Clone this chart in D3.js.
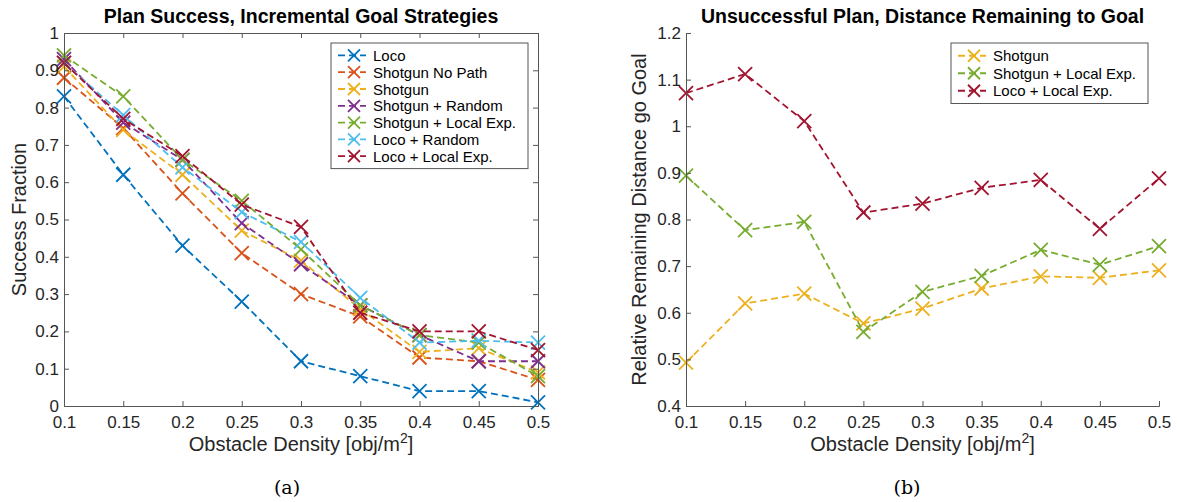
<!DOCTYPE html>
<html>
<head>
<meta charset="utf-8">
<script src="https://cdn.jsdelivr.net/npm/d3@7"></script>
<style>
  body { margin: 0; background: #fff; }
  svg { display: block; font-family: "Liberation Sans", Arial, sans-serif; }
</style>
</head>
<body>
<svg id="chart" width="1177" height="502"></svg>
<script>
// x values shared by both panels
var density = [0.1, 0.15, 0.2, 0.25, 0.3, 0.35, 0.4, 0.45, 0.5];
var xTickLabels = ["0.1", "0.15", "0.2", "0.25", "0.3", "0.35", "0.4", "0.45", "0.5"];

// panel (a) - success fraction
var successNames = ["Loco", "Shotgun No Path", "Shotgun", "Shotgun + Random",
  "Shotgun + Local Exp.", "Loco + Random", "Loco + Local Exp."];
var loco          = [0.83, 0.62, 0.43, 0.28, 0.12, 0.08, 0.04, 0.04, 0.01];
var shotgunNoPath = [0.88, 0.745, 0.57, 0.41, 0.30, 0.24, 0.13, 0.12, 0.07];
var shotgun       = [0.91, 0.74, 0.62, 0.47, 0.39, 0.26, 0.145, 0.155, 0.09];
var shotgunRandom = [0.93, 0.76, 0.66, 0.49, 0.38, 0.27, 0.19, 0.12, 0.12];
var shotgunLocal  = [0.94, 0.83, 0.66, 0.55, 0.42, 0.27, 0.19, 0.17, 0.08];
var locoRandom    = [0.92, 0.78, 0.64, 0.52, 0.44, 0.29, 0.17, 0.175, 0.17];
var locoLocal     = [0.92, 0.77, 0.67, 0.54, 0.48, 0.25, 0.20, 0.20, 0.15];
var successTicks  = [0, 0.1, 0.2, 0.3, 0.4, 0.5, 0.6, 0.7, 0.8, 0.9, 1];
var successTickLabels = ["0", "0.1", "0.2", "0.3", "0.4", "0.5", "0.6", "0.7", "0.8", "0.9", "1"];

// panel (b) - remaining distance
var distNames = ["Shotgun", "Shotgun + Local Exp.", "Loco + Local Exp."];
var distShotgun      = [0.493, 0.620, 0.641, 0.577, 0.609, 0.652, 0.678, 0.675, 0.691];
var distShotgunLocal = [0.894, 0.777, 0.795, 0.559, 0.645, 0.679, 0.735, 0.703, 0.743];
var distLocoLocal    = [1.071, 1.112, 1.011, 0.815, 0.834, 0.868, 0.885, 0.780, 0.888];
var distTicks = [0.4, 0.5, 0.6, 0.7, 0.8, 0.9, 1.0, 1.1, 1.2];
var distTickLabels = ["0.4", "0.5", "0.6", "0.7", "0.8", "0.9", "1", "1.1", "1.2"];

// matlab default colour order
var blue = "#0072BD", orange = "#D95319", yellow = "#EDB120", purple = "#7E2F8E",
    green = "#77AC30", cyan = "#4DBEEE", red = "#A2142F";

var axisColor = "#555";
var svg = d3.select("#chart");

function xMark(cx, cy, r) {
  return "M" + (cx - r) + "," + (cy - r) + "L" + (cx + r) + "," + (cy + r) +
         "M" + (cx - r) + "," + (cy + r) + "L" + (cx + r) + "," + (cy - r);
}

function drawPanel(opt) {
  var g = svg.append("g");
  var x = d3.scaleLinear().domain([0.1, 0.5]).range([opt.left, opt.right]);
  var y = d3.scaleLinear().domain(opt.yDomain).range([opt.bottom, opt.top]);

  // series
  opt.series.forEach(function(s) {
    var pts = density.map(function(d, i) { return [d, s.values[i]]; });
    var line = d3.line().x(function(d) { return x(d[0]); }).y(function(d) { return y(d[1]); });
    g.append("path")
      .datum(pts)
      .attr("d", line)
      .attr("fill", "none")
      .attr("stroke", s.color)
      .attr("stroke-width", 1.8)
      .attr("stroke-dasharray", "7,4");
    g.selectAll(null).data(pts).enter().append("path")
      .attr("d", function(d) { return xMark(x(d[0]), y(d[1]), 7); })
      .attr("stroke", s.color)
      .attr("stroke-width", 1.8)
      .attr("fill", "none");
  });

  // axes
  var xAxis = d3.axisBottom(x).tickValues(density).tickSize(-5).tickPadding(10)
    .tickFormat(function(d, i) { return xTickLabels[i]; });
  var yAxis = d3.axisLeft(y).tickValues(opt.yTicks).tickSize(-5).tickPadding(5)
    .tickFormat(function(d, i) { return opt.yTickLabels[i]; });

  g.append("g").attr("transform", "translate(0," + opt.bottom + ")").call(xAxis);
  g.append("g").attr("transform", "translate(" + opt.left + ",0)").call(yAxis);

  if (opt.box) {
    g.append("g").attr("transform", "translate(0," + opt.top + ")")
      .call(d3.axisTop(x).tickValues(density).tickSize(-5).tickFormat(""));
    g.append("g").attr("transform", "translate(" + opt.right + ",0)")
      .call(d3.axisRight(y).tickValues(opt.yTicks).tickSize(-5).tickFormat(""));
  }
  g.selectAll(".domain, .tick line").attr("stroke", axisColor).attr("stroke-width", 1);
  g.selectAll(".tick text").attr("fill", "#262626").style("font-size", "17px")
    .style("font-family", '"Liberation Sans", Arial, sans-serif');

  // titles
  g.append("text")
    .attr("x", (opt.left + opt.right) / 2).attr("y", 23)
    .attr("text-anchor", "middle")
    .style("font-size", "19.5px").style("font-weight", "bold")
    .text(opt.title);

  var xl = g.append("text")
    .attr("x", (opt.left + opt.right) / 2).attr("y", opt.bottom + 45)
    .attr("text-anchor", "middle")
    .attr("fill", "#262626")
    .style("font-size", "20px");
  xl.append("tspan").text("Obstacle Density [obj/m");
  xl.append("tspan").attr("dy", -8).style("font-size", "14px").text("2");
  xl.append("tspan").attr("dy", 8).text("]");

  g.append("text")
    .attr("transform", "translate(" + opt.yLabelX + "," + (opt.top + opt.bottom) / 2 + ") rotate(-90)")
    .attr("text-anchor", "middle")
    .attr("fill", "#262626")
    .style("font-size", "20px")
    .text(opt.yLabel);

  g.append("text")
    .attr("x", opt.captionX).attr("y", 494)
    .attr("text-anchor", "middle")
    .style("font-family", '"DejaVu Serif", "Liberation Serif", serif')
    .style("font-size", "19px")
    .text(opt.caption);

  // legend
  var lg = opt.legend;
  var lh = opt.series.length * lg.step + 8;
  g.append("rect")
    .attr("x", lg.x).attr("y", lg.y).attr("width", lg.w).attr("height", lh)
    .attr("fill", "#fff").attr("stroke", axisColor).attr("stroke-width", 1);
  opt.series.forEach(function(s, i) {
    var cy = lg.y + 4 + lg.step * (i + 0.5);
    var lx = lg.x + 7;
    g.append("line")
      .attr("x1", lx).attr("x2", lx + 28).attr("y1", cy).attr("y2", cy)
      .attr("stroke", s.color).attr("stroke-width", 1.8).attr("stroke-dasharray", "7,4");
    g.append("path")
      .attr("d", xMark(lx + 16, cy, 6))
      .attr("stroke", s.color).attr("stroke-width", 1.8);
    g.append("text")
      .attr("x", lx + 35).attr("y", cy + 5.5)
      .style("font-size", "15px")
      .attr("fill", "#000")
      .text(s.name);
  });
}

drawPanel({
  left: 64, right: 538, top: 33, bottom: 406,
  yDomain: [0, 1], yTicks: successTicks, yTickLabels: successTickLabels,
  title: "Plan Success, Incremental Goal Strategies",
  yLabel: "Success Fraction", yLabelX: 26, caption: "(a)", captionX: 287, box: true,
  legend: { x: 331, y: 43, w: 197, step: 16.8 },
  series: [
    { name: successNames[0], values: loco, color: blue },
    { name: successNames[1], values: shotgunNoPath, color: orange },
    { name: successNames[2], values: shotgun, color: yellow },
    { name: successNames[3], values: shotgunRandom, color: purple },
    { name: successNames[4], values: shotgunLocal, color: green },
    { name: successNames[5], values: locoRandom, color: cyan },
    { name: successNames[6], values: locoLocal, color: red }
  ]
});

drawPanel({
  left: 686, right: 1159, top: 33, bottom: 406,
  yDomain: [0.4, 1.2], yTicks: distTicks, yTickLabels: distTickLabels,
  title: "Unsuccessful Plan, Distance Remaining to Goal",
  yLabel: "Relative Remaining Distance go Goal", yLabelX: 646, caption: "(b)", captionX: 907, box: false,
  legend: { x: 951, y: 43, w: 197, step: 17.5 },
  series: [
    { name: distNames[0], values: distShotgun, color: yellow },
    { name: distNames[1], values: distShotgunLocal, color: green },
    { name: distNames[2], values: distLocoLocal, color: red }
  ]
});
</script>
</body>
</html>
